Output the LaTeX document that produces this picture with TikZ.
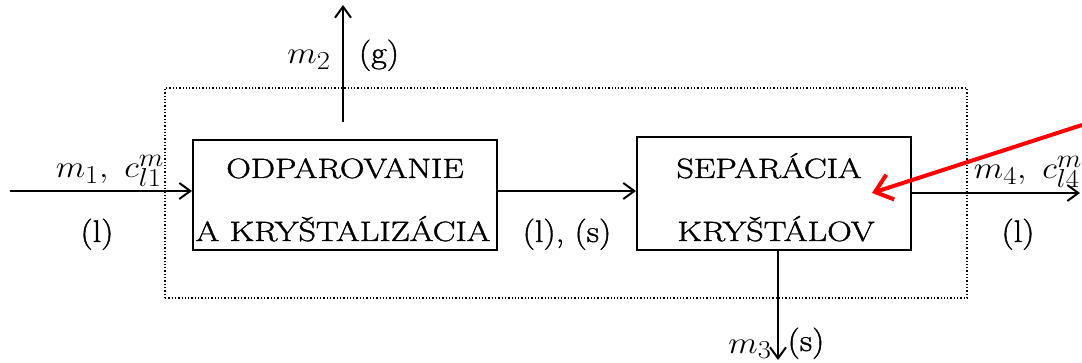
\documentclass[tikz,border=0pt]{standalone}
\usepackage{fontspec}
\usetikzlibrary{arrows.meta}
\newfontfamily\heavyfont[FakeBold=1.2]{Latin Modern Roman}
\begin{document}
\begin{tikzpicture}[x=1pt,y=-1pt,
  proc/.style={draw,line width=2pt,inner sep=0pt},
  flow/.style={line width=2pt,-{Straight Barb[length=11pt,width=16pt,line width=2pt]}},
  lab/.style={inner sep=0pt,font=\heavyfont\fontsize{24.88}{30}\selectfont},
  btxt/.style={inner sep=0pt,font=\heavyfont\fontsize{28}{30}\selectfont}]
\newcommand{\lbl}[1]{\scalebox{1.38}[1.25]{#1}}
\newcommand{\btx}[1]{\scalebox{1.22}[1.0]{#1}}
\useasboundingbox (0,0) rectangle (1082,363);
\fill[white] (0,0) rectangle (1082,363);
% dotted boundary
\node[draw,dotted,line width=1.3pt,minimum width=802pt,minimum height=210pt,inner sep=0pt] (bound) at (566,193) {};
% process boxes
\node[proc,minimum width=304pt,minimum height=110pt] (b1) at (345,195) {};
\node[proc,minimum width=274pt,minimum height=113pt] (b2) at (774,193.5) {};
\node[btxt,anchor=base] (t1a) at (345,178) {\btx{ODPAROVANIE}};
\node[btxt,anchor=base] (t1b) at (343,241) {\btx{A KRYŠTALIZÁCIA}};
\node[btxt,anchor=base] (t2a) at (769,178) {\btx{SEPARÁCIA}};
\node[btxt,anchor=base] (t2b) at (776,241) {\btx{KRYŠTÁLOV}};
% coordinates
\coordinate (in) at (10,191);
\coordinate (out) at (1080,193);
\coordinate (m2s) at (343,122);
\coordinate (m2e) at (343,5);
\coordinate (m3e) at (778,360);
% flows
\draw[flow] (in) -- (in -| b1.west);
\draw[flow] (b1.east |- 0,191) -- (b2.west |- 0,191);
\draw[flow] (b2.east |- out) -- (out);
\draw[flow] (m2s) -- (m2e);
\draw[flow] (b2.south -| m3e) -- (m3e);
% labels
\node[lab,anchor=base] (l1) at (110,178) {\lbl{$m_1,\ c^{m}_{l1}$}};
\node[lab,anchor=base] (l1p) at (97,242) {\lbl{(l)}};
\node[lab,anchor=base] (lmid) at (567,242) {\lbl{(l), (s)}};
\node[lab,anchor=base] (l4) at (1028,179) {\lbl{$m_4,\ c^{m}_{l4}$}};
\node[lab,anchor=base] (l4p) at (1018,242) {\lbl{(l)}};
\node[lab,anchor=base] (l2) at (309,64) {\lbl{$m_2$}};
\node[lab,anchor=base] (l2p) at (379,63) {\lbl{(g)}};
\node[lab,anchor=base] (l3) at (750,353) {\lbl{$m_3$}};
\node[lab,anchor=base] (l3p) at (806,351) {\lbl{(s)}};
% red annotation arrow
\coordinate (ra) at (1082,125);
\coordinate (rb) at (872,193);
\draw[red,line width=4pt,-{Straight Barb[length=16pt,width=26pt,line width=4pt]}] (ra) -- (rb);
\end{tikzpicture}
\end{document}
